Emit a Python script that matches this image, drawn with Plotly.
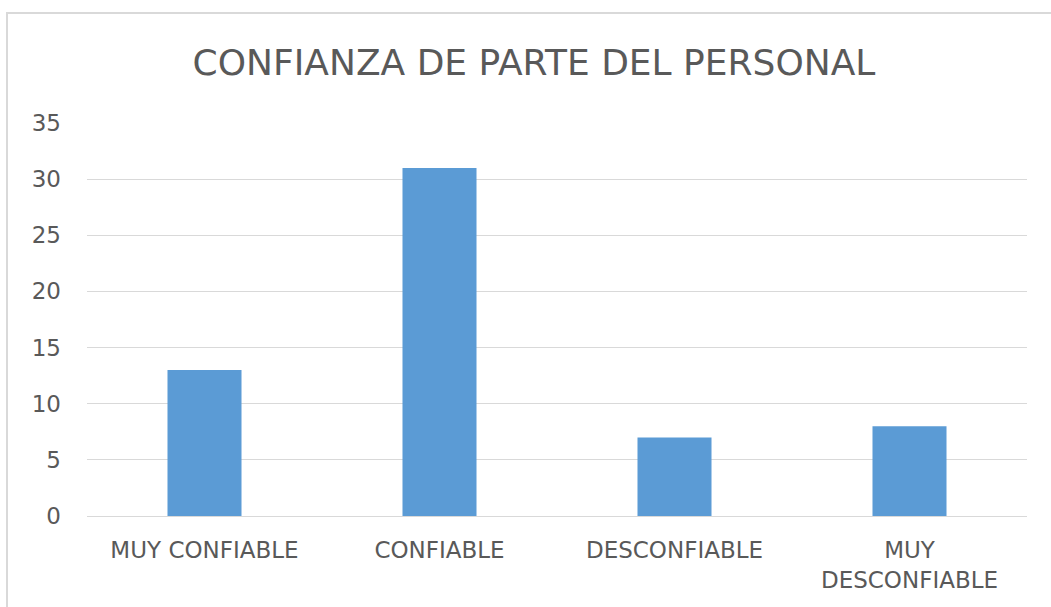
import plotly.graph_objects as go

categories = ["MUY CONFIABLE", "CONFIABLE", "DESCONFIABLE", "MUY DESCONFIABLE"]
tick_labels = ["MUY CONFIABLE", "CONFIABLE", "DESCONFIABLE", "MUY<br>DESCONFIABLE"]
values = [13, 31, 7, 8]
y_ticks = [0, 5, 10, 15, 20, 25, 30, 35]

FONT = "DejaVu Sans"
TXT = "#595959"

fig = go.Figure(go.Bar(x=categories, y=values, marker=dict(color="#5B9BD5", line=dict(width=0))))

W, H = 1051, 607
l, r, t, b = 87, 24, 123, 91
pw, ph = W - l - r, H - t - b

fig.update_layout(
    width=W, height=H,
    margin=dict(l=l, r=r, t=t, b=b),
    paper_bgcolor="white", plot_bgcolor="white",
    bargap=0.685,
    showlegend=False,
    font=dict(family=FONT, color=TXT),
    title=dict(text="CONFIANZA DE PARTE DEL PERSONAL", x=534 / W, xanchor="center",
               y=1 - 62 / H, yanchor="middle", yref="container",
               font=dict(family=FONT, size=36, color=TXT)),
    xaxis=dict(tickmode="array", tickvals=categories, ticktext=tick_labels,
               tickfont=dict(size=23, color=TXT), showgrid=False,
               showline=False, zeroline=False, ticks="", ticklabelstandoff=18),
    yaxis=dict(range=[0, 35], tickvals=y_ticks, tickfont=dict(size=23, color=TXT),
               showgrid=True, gridcolor="#D9D9D9", gridwidth=1, zeroline=True,
               zerolinecolor="#D9D9D9", zerolinewidth=1, showline=False, ticks="",
               ticklabelstandoff=25),
    shapes=[dict(type="rect", xref="paper", yref="paper",
                 x0=(7 - l) / pw, x1=(W + 20 - l) / pw,
                 y0=-(H + 20 - t - ph) / ph, y1=(H - b - 13) / ph,
                 line=dict(color="#D9D9D9", width=2), fillcolor="rgba(0,0,0,0)", layer="below")],
)

fig.write_html("out.html", config={"displayModeBar": False},
               post_script="document.body.style.margin='0';")
